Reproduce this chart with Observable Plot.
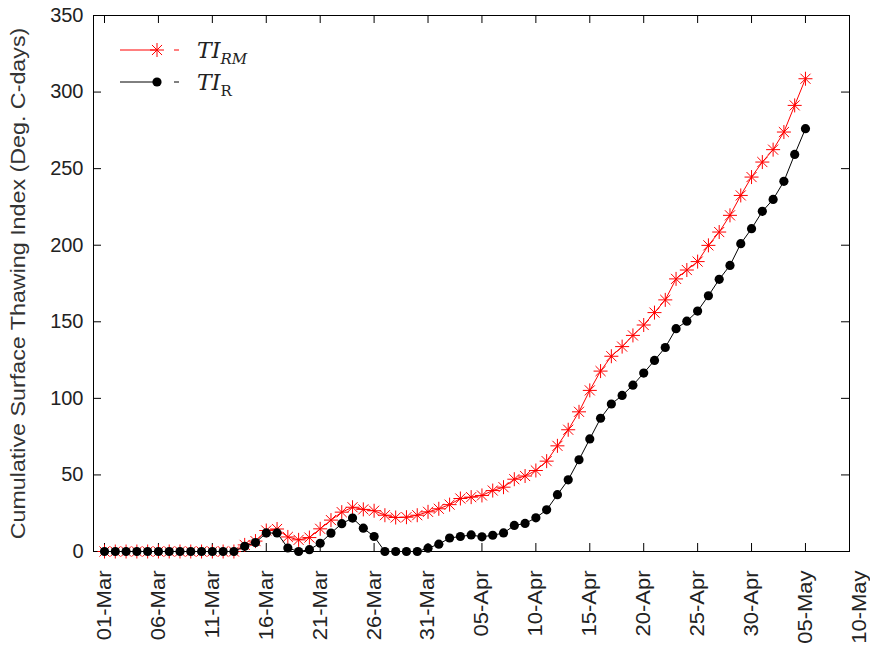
<!DOCTYPE html>
<html><head><meta charset="utf-8">
<script src="https://cdn.jsdelivr.net/npm/d3@7"></script>
<script src="https://cdn.jsdelivr.net/npm/@observablehq/plot@0.6"></script>
<style>
html,body{margin:0;padding:0;background:#fff;}
#wrap{position:relative;width:870px;height:647px;}
#legend{position:absolute;left:0;top:0;pointer-events:none;}
</style></head><body>
<div id="wrap"></div>
<script>
// ---- data ----
const startDate = "2009-03-01";
const endDate = "2009-05-05";
const tiRM = [0,0,0,0,0,0,0,0,0,0,0,0,0,
  4.3,6.8,13.7,14.7,9.5,7.6,9.1,14.8,20.5,25.7,28.9,27.5,26.6,23.7,22.2,22.4,23.7,25.9,27.9,
  30.6,34.6,35.5,36.6,39.8,42,47.2,49.3,52.9,59,69,79.5,91.2,105.2,117.8,127.5,133.8,141.1,
  147.9,156,164.3,178,183.8,189.3,199.9,208.6,219.5,232.5,244.5,254.3,262.4,273.9,291.3,308.7];
const tiR = [0,0,0,0,0,0,0,0,0,0,0,0,0,
  3.4,5.8,12.1,12.1,2.3,0,1.2,5.4,12,18.2,21.8,15.2,9.8,0,0,0,0,2.2,4.8,
  8.8,9.8,10.8,9.6,10.6,12.1,17,18.3,22,27.2,37.1,46.8,59.9,73.5,87,96.3,101.9,108.6,
  116.5,124.8,133.2,145.5,150.4,157,167,177.7,186.8,201,210.8,222.1,229.9,241.7,259.3,276.1];
const tickLabels = ["01-Mar","06-Mar","11-Mar","16-Mar","21-Mar","26-Mar","31-Mar","05-Apr",
  "10-Apr","15-Apr","20-Apr","25-Apr","30-Apr","05-May","10-May"];
const yTicks = [0,50,100,150,200,250,300,350];
const yLabel = "Cumulative Surface Thawing Index (Deg. C-days)";
const legendItems = [
  {name:"TI", sub:"RM", subItalic:true, color:"#ff0000", marker:"asterisk"},
  {name:"TI", sub:"R", subItalic:false, color:"#000000", marker:"dot"}
];

// ---- layout ----
const W = 870, H = 647, mL = 93, mR = 21, mT = 15, mB = 96;
const frameW = W - mL - mR, frameH = H - mT - mB;
const xDomain = [new Date("2009-02-27T23:30Z"), new Date("2009-05-09T02:00Z")];

const dates = d3.utcDay.range(new Date(startDate), d3.utcDay.offset(new Date(endDate), 1));
const rows = dates.map((date, i) => ({date, rm: tiRM[i], r: tiR[i]}));
const parseTick = d3.utcParse("%d-%b-%Y");
const tickDates = tickLabels.map(s => parseTick(s + "-2009"));
const tickDatesIn = tickDates.filter(d => d >= xDomain[0] && d <= xDomain[1]);

const asterisk8 = {
  draw(ctx, size) {
    const r = Math.sqrt(size / Math.PI), d = r * 0.72;
    ctx.moveTo(-r, 0); ctx.lineTo(r, 0);
    ctx.moveTo(0, -r); ctx.lineTo(0, r);
    ctx.moveTo(-d, -d); ctx.lineTo(d, d);
    ctx.moveTo(-d, d); ctx.lineTo(d, -d);
  }
};

const chart = Plot.plot({
  width: W, height: H, marginLeft: mL, marginRight: mR, marginTop: mT, marginBottom: mB,
  style: {fontFamily: "'Liberation Sans', Arial, sans-serif", fontSize: "20px", color: "#222", background: "#fff"},
  x: {type: "utc", domain: xDomain},
  y: {domain: [0, 350]},
  marks: [
    Plot.frame({stroke: "#000"}),
    Plot.axisX(tickDates, {tickFormat: d3.utcFormat("%d-%b"), tickRotate: -90, tickSize: 0, tickPadding: 19, label: null}),
    Plot.axisY(yTicks, {tickSize: 0, tickPadding: 10, label: null, tickFormat: d => String(d)}),
    Plot.tickX(tickDatesIn, {x: d => d, insetTop: frameH - 8, stroke: "#000"}),
    Plot.tickX(tickDatesIn, {x: d => d, insetBottom: frameH - 8, stroke: "#000"}),
    Plot.tickY(yTicks, {y: d => d, insetRight: frameW - 8, stroke: "#000"}),
    Plot.tickY(yTicks, {y: d => d, insetLeft: frameW - 8, stroke: "#000"}),
    Plot.line(rows, {x: "date", y: "rm", stroke: "#ff0000", strokeWidth: 1}),
    Plot.dot(rows, {x: "date", y: "rm", symbol: asterisk8, r: 7, stroke: "#ff0000", fill: "none", strokeWidth: 1}),
    Plot.line(rows, {x: "date", y: "r", stroke: "#000", strokeWidth: 1}),
    Plot.dot(rows, {x: "date", y: "r", r: 4.6, fill: "#000", stroke: "none"}),
    Plot.text([yLabel], {text: d => d, frameAnchor: "left", textAnchor: "middle", lineAnchor: "middle",
      dx: -75, rotate: -90, fontSize: 20, fill: "#333", className: "ylab"})
  ]
});

const wrap = document.getElementById("wrap");
wrap.appendChild(chart);

// stretch text along its run, like the reference
function stretch(t, sx) {
  const tr = t.getAttribute("transform") || "";
  t.setAttribute("transform", tr + ` scale(${sx},1)`);
}
const yl = chart.querySelector(".ylab text");
if (yl) stretch(yl, 512 / yl.getComputedTextLength());
chart.querySelectorAll('[aria-label="x-axis tick label"] text').forEach(t => stretch(t, 1.1));

// ---- legend (inside plot, top-left) ----
const leg = d3.select(wrap).append("svg").attr("id", "legend").attr("width", W).attr("height", H);
const rowY = [50, 82];
legendItems.forEach((it, i) => {
  const y = rowY[i];
  const g = leg.append("g");
  g.append("line").attr("x1", 120).attr("x2", 157).attr("y1", y).attr("y2", y).attr("stroke", it.color);
  if (it.marker === "asterisk") {
    g.append("path").attr("d", d3.symbol(asterisk8, Math.PI * 49)()).attr("transform", `translate(157,${y})`)
      .attr("stroke", it.color).attr("fill", "none");
  } else {
    g.append("circle").attr("cx", 157).attr("cy", y).attr("r", 4.6).attr("fill", it.color);
  }
  g.append("line").attr("x1", 174).attr("x2", 179).attr("y1", y).attr("y2", y).attr("stroke", it.color);
  const t = g.append("text").attr("x", 197).attr("y", y + 8)
    .attr("font-family", "'DejaVu Serif', 'Liberation Serif', serif").attr("font-size", 22)
    .attr("font-style", "italic").attr("fill", "#222");
  t.append("tspan").text(it.name);
  t.append("tspan").attr("dy", 6).attr("font-size", 15)
    .attr("font-style", it.subItalic ? "italic" : "normal").text(it.sub);
});
</script>
</body></html>
